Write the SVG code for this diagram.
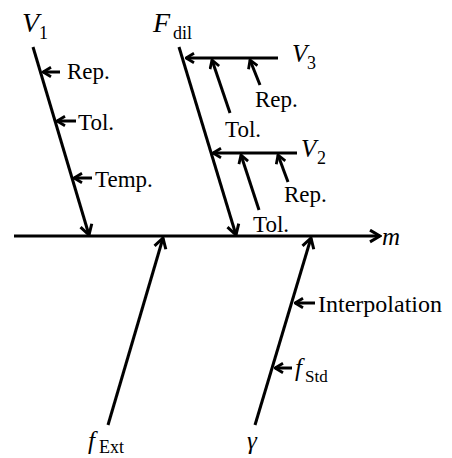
<svg xmlns="http://www.w3.org/2000/svg" width="452" height="458" viewBox="0 0 452 458">
<style>
.ln{stroke:#000;stroke-width:3;fill:none}
.t{font-family:"Liberation Serif","Times New Roman",serif;font-size:23px;fill:#000}
.v{font-family:"Liberation Serif","Times New Roman",serif;font-style:italic;font-size:25px;fill:#000}
.s{font-family:"Liberation Serif","Times New Roman",serif;font-size:18px;fill:#000}
</style>
<defs>
<marker id="arr" viewBox="0 0 12 12" refX="10.5" refY="6" markerWidth="15" markerHeight="15" markerUnits="userSpaceOnUse" orient="auto">
<path d="M2.5,1.3 L10.5,6 L2.5,10.7" fill="none" stroke="#000" stroke-width="2.4"/>
</marker>
<marker id="arrs" viewBox="0 0 12 12" refX="10.5" refY="6" markerWidth="12" markerHeight="12" markerUnits="userSpaceOnUse" orient="auto">
<path d="M2.5,1.2 L10.5,6 L2.5,10.8" fill="none" stroke="#000" stroke-width="2.8"/>
</marker>
</defs>
<g id="connectors">
<line class="ln" x1="14" y1="236" x2="380" y2="236" marker-end="url(#arr)"/>
<line class="ln" x1="33" y1="47" x2="89" y2="235" marker-end="url(#arr)"/>
<line class="ln" x1="60" y1="72" x2="43" y2="72" marker-end="url(#arrs)"/>
<line class="ln" x1="76" y1="121" x2="57" y2="121" marker-end="url(#arrs)"/>
<line class="ln" x1="92" y1="178" x2="74" y2="178" marker-end="url(#arrs)"/>
<line class="ln" x1="179" y1="47" x2="236" y2="235" marker-end="url(#arr)"/>
<line class="ln" x1="278" y1="58" x2="186" y2="58" marker-end="url(#arrs)"/>
<line class="ln" x1="230" y1="113" x2="212" y2="60" marker-end="url(#arrs)"/>
<line class="ln" x1="260" y1="85" x2="250" y2="60" marker-end="url(#arrs)"/>
<line class="ln" x1="297" y1="153" x2="213" y2="153" marker-end="url(#arrs)"/>
<line class="ln" x1="259" y1="210" x2="241" y2="155" marker-end="url(#arrs)"/>
<line class="ln" x1="288" y1="182" x2="278" y2="155" marker-end="url(#arrs)"/>
<line class="ln" x1="108" y1="425" x2="163" y2="238" marker-end="url(#arr)"/>
<line class="ln" x1="255" y1="425" x2="311" y2="238" marker-end="url(#arr)"/>
<line class="ln" x1="315" y1="303" x2="295" y2="303" marker-end="url(#arrs)"/>
<line class="ln" x1="292" y1="368" x2="275" y2="368" marker-end="url(#arrs)"/>
</g>
<g id="V1"><text class="v" x="22" y="32" style="font-size:28px">V</text><text class="s" x="39" y="39">1</text></g>
<g id="Fdil"><text class="v" x="153" y="32" style="font-size:28px">F</text><text class="s" x="173" y="39">dil</text></g>
<g id="V3"><text class="v" x="292" y="62">V</text><text class="s" x="307" y="69">3</text></g>
<g id="V2"><text class="v" x="301" y="157">V</text><text class="s" x="317" y="164">2</text></g>
<g id="m"><text class="v" x="382" y="245">m</text></g>
<g id="fExt"><text class="v" x="88" y="449">f</text><text class="s" x="99" y="453">Ext</text></g>
<g id="gamma"><text class="v" x="247" y="449">γ</text></g>
<g id="fStd"><text class="v" x="295" y="376">f</text><text class="s" x="305" y="382" style="font-size:17px">Std</text></g>
<g id="labels">
<text class="t" x="67" y="79">Rep.</text>
<text class="t" x="78" y="130">Tol.</text>
<text class="t" x="95" y="187">Temp.</text>
<text class="t" x="255" y="107">Rep.</text>
<text class="t" x="225" y="137">Tol.</text>
<text class="t" x="284" y="202">Rep.</text>
<text class="t" x="253" y="232">Tol.</text>
<text class="t" x="318" y="312" style="font-size:24px">Interpolation</text>
</g>
</svg>
